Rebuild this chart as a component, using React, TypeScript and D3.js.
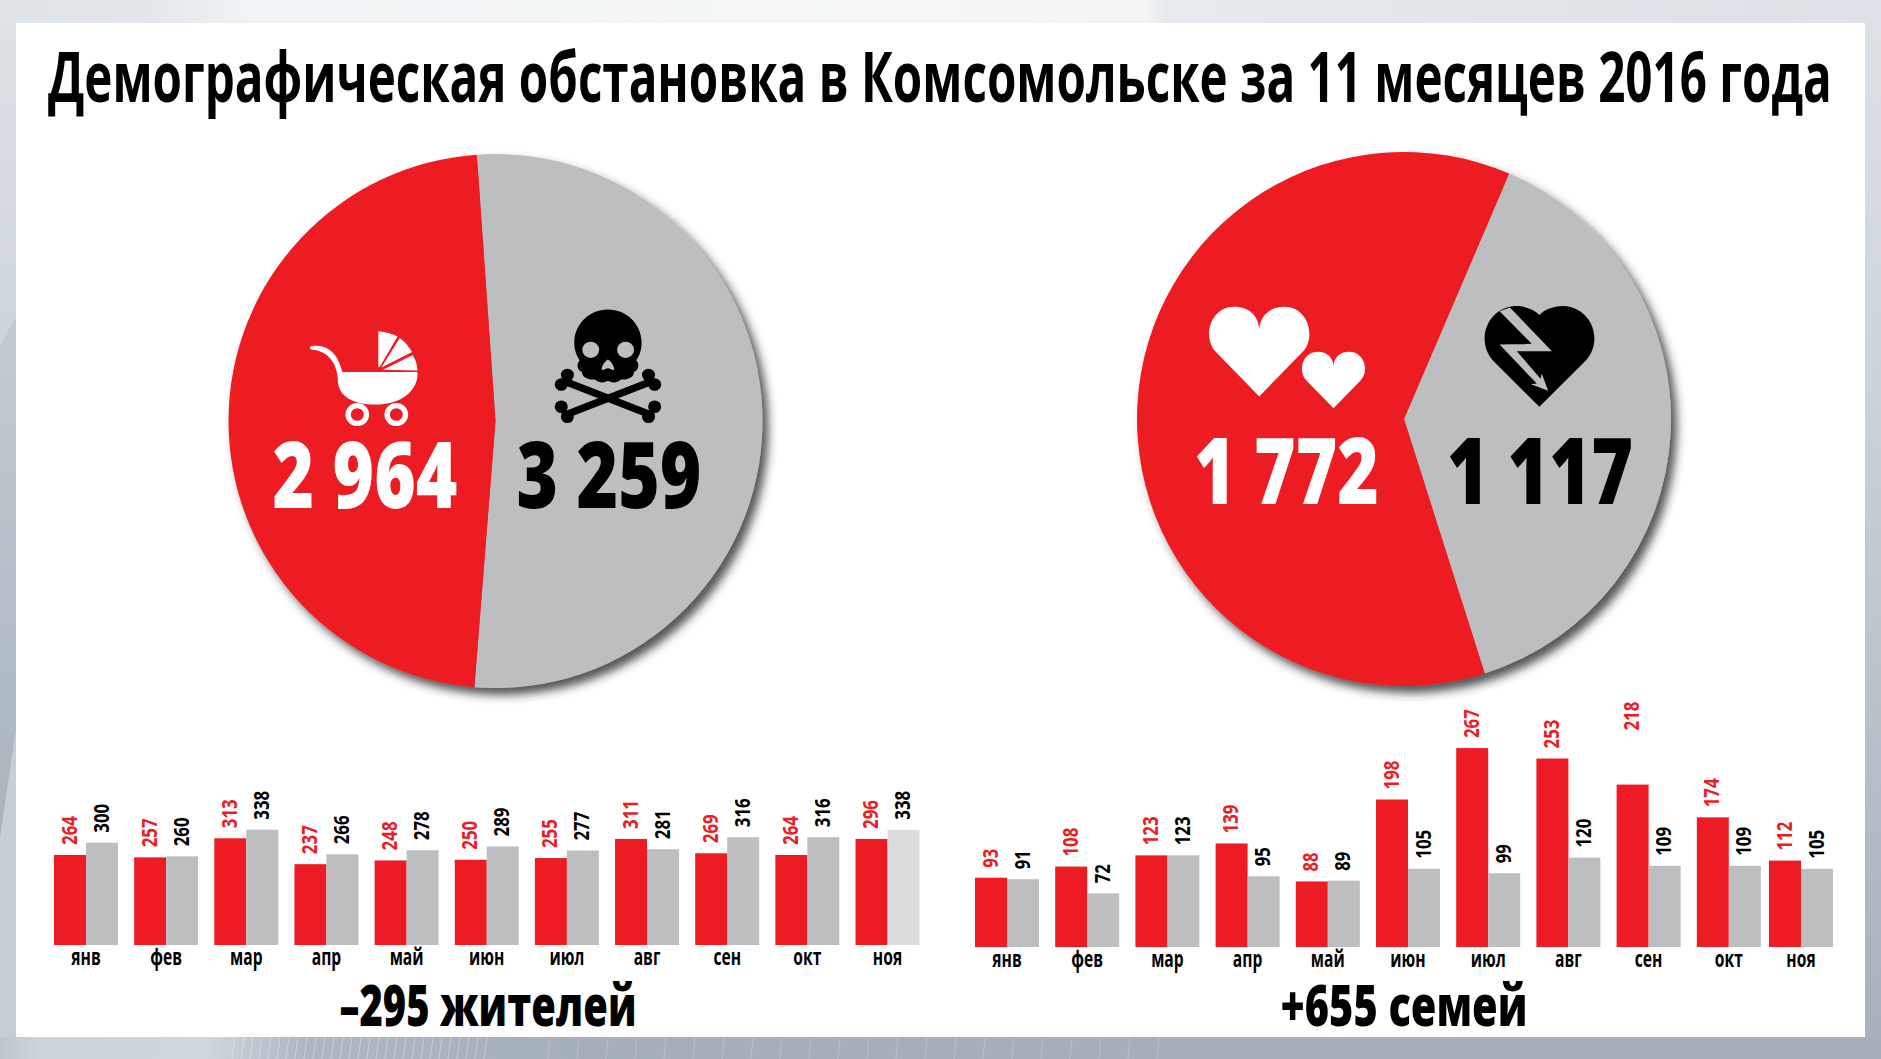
import React, { useLayoutEffect, useRef } from "react";
import * as d3 from "d3";

const months = ["янв", "фев", "мар", "апр", "май", "июн", "июл", "авг", "сен", "окт", "ноя"];
const births = [264, 257, 313, 237, 248, 250, 255, 311, 269, 264, 296];
const deaths = [300, 260, 338, 266, 278, 289, 277, 281, 316, 316, 338];
const marriages = [93, 108, 123, 139, 88, 198, 267, 253, 218, 174, 112];
const divorces = [91, 72, 123, 95, 89, 105, 99, 120, 109, 109, 105];
// The reference draws these two bars taller than their printed values.
const birthsBarOverride: Record<string, number> = { "ноя": 311 };
const marriagesBarOverride: Record<string, number> = { "ноя": 116 };
const totalsLeft = [3259, 2964];
const totalsRight = [1117, 1772];

const RED = "#ed1c24";
const GREY = "#bcbec0";
const FONT = "'Open Sans', sans-serif";

const W = 1881;
const H = 1059;

// Squeezes a real text horizontally to the measured width in the reference.
function Fitted({ x, y, len, size, fill, weight = 800, rotate = 0, children }: any) {
  const ref = useRef<SVGTextElement>(null);
  useLayoutEffect(() => {
    const el = ref.current;
    if (!el) return;
    const natural = el.getComputedTextLength();
    const rot = rotate ? ` rotate(${rotate})` : "";
    el.setAttribute("transform", `translate(${x},${y})${rot} scale(${len / natural},1)`);
  });
  return (
    <text ref={ref} transform={`translate(${x},${y})`} fontFamily={FONT} fontWeight={weight} fontSize={size} fill={fill}>{children}</text>
  );
}

function Pie({ cx, cy, r, values, startDeg }: any) {
  const pie = d3.pie<number>().sort(null).startAngle((startDeg * Math.PI) / 180).endAngle((startDeg * Math.PI) / 180 + 2 * Math.PI);
  const arc = d3.arc<d3.PieArcDatum<number>>().innerRadius(0).outerRadius(r);
  const colors = [GREY, RED];
  return (
    <g transform={`translate(${cx},${cy})`} filter="url(#pieShadow)">
      {pie(values).map((d, i) => <path key={i} d={arc(d) as string} fill={colors[i]} />)}
    </g>
  );
}

function Bars({ a, b, x0, step, width, base, pxPerUnit, override, nudge, lift, labelY }: any) {
  const inner = 1 - width / step;
  const x = d3.scaleBand<string>().domain(months).range([x0, x0 + step * (months.length - inner)]).paddingInner(inner).paddingOuter(0);
  const pair = d3.scaleBand<string>().domain(["a", "b"]).range([0, x.bandwidth()]);
  const y = d3.scaleLinear().domain([0, 1]).range([base, base - pxPerUnit]);
  const bw = pair.bandwidth();
  const label = (v: number, cxx: number, top: number, color: string) => (
    <Fitted x={cxx + 6.5} y={top} rotate={-90} size={22} weight={700} fill={color} len={String(v).length === 3 ? 29 : 19}>{v}</Fitted>
  );
  return (
    <g>
      {months.map((m, i) => {
        const xx = (x(m) as number) + (nudge[m] || 0);
        const ra = override[m] ?? a[i];
        const gx = xx + (pair("b") as number);
        const greyFill = lift.fade === m ? "#dcddde" : GREY;
        return (
          <g key={m}>
            <rect x={xx} y={y(ra)} width={bw} height={base - y(ra)} fill={RED} />
            <rect x={gx} y={y(b[i])} width={bw} height={base - y(b[i])} fill={greyFill} />
            {label(a[i], xx + bw / 2, y(ra) - (lift.gaps[m] || 10), RED)}
            {label(b[i], gx + bw / 2, y(b[i]) - 10, "#000")}
            <text transform={`translate(${gx},${labelY}) scale(0.68,1)`} textAnchor="middle" fontFamily={FONT}
              fontWeight={700} fontSize={23} fill="#000">{m}</text>
          </g>
        );
      })}
    </g>
  );
}

export default function App() {
  return (
    <svg width={W} height={H} viewBox={`0 0 ${W} ${H}`} style={{ position: "absolute", left: 0, top: 0, display: "block" }}>
      <defs>
        <linearGradient id="bgV" x1="0" y1="0" x2="0" y2="1">
          <stop offset="0" stopColor="#dde2e7" />
          <stop offset="0.3" stopColor="#cfd6db" />
          <stop offset="0.7" stopColor="#b7c0c8" />
          <stop offset="1" stopColor="#a6b0bc" />
        </linearGradient>
        <linearGradient id="topH" x1="0" y1="0" x2="1" y2="0">
          <stop offset="0" stopColor="#dfe4e8" />
          <stop offset="0.08" stopColor="#e3e7eb" />
          <stop offset="0.13" stopColor="#f0f3f5" />
          <stop offset="0.45" stopColor="#f5f7f8" />
          <stop offset="0.61" stopColor="#f2f4f6" />
          <stop offset="0.62" stopColor="#e6e9ed" />
          <stop offset="1" stopColor="#dde1e7" />
        </linearGradient>
        <linearGradient id="botH" x1="0" y1="0" x2="1" y2="0">
          <stop offset="0" stopColor="#bcc5ce" />
          <stop offset="0.02" stopColor="#ccd3da" />
          <stop offset="0.11" stopColor="#cfd6dd" />
          <stop offset="0.16" stopColor="#aeb8c3" />
          <stop offset="0.3" stopColor="#a6b0bc" />
          <stop offset="1" stopColor="#a6afbb" />
        </linearGradient>
        <linearGradient id="leftBand" x1="0" y1="0" x2="0" y2="1">
          <stop offset="0" stopColor="#c3cbd2" />
          <stop offset="1" stopColor="#a9b4bd" />
        </linearGradient>
        <filter id="pieShadow" x="-10%" y="-10%" width="125%" height="125%">
          <feDropShadow dx="6" dy="7" stdDeviation="5" floodColor="#2c2c2c" floodOpacity="0.8" />
        </filter>
      </defs>

      <rect width={W} height={H} fill="url(#bgV)" />
      <rect width={W} height={24} fill="url(#topH)" />
      <rect y={1036} width={W} height={23} fill="url(#botH)" />
      <polygon points="0,345 16,317 16,730 0,838" fill="url(#leftBand)" />
      <polygon points="0,838 16,730 16,1037 0,1037" fill="#c6ced6" />
      {d3.range(235, 490, 9).map((lx) => (
        <line key={lx} x1={lx} y1={1037} x2={lx - 3} y2={1059} stroke="#fff" strokeOpacity={0.35} strokeWidth={1} />
      ))}
      {d3.range(550, 1160, 29).map((lx) => (
        <line key={lx} x1={lx} y1={1037} x2={lx - 2} y2={1059} stroke="#fff" strokeOpacity={0.2} strokeWidth={1} />
      ))}
      <rect x={16} y={23} width={1849} height={1014} fill="#fff" />

      <Fitted x={48} y={102} len={1784} size={70} weight={700} fill="#000">Демографическая обстановка в Комсомольске за 11 месяцев 2016 года</Fitted>

      <Pie cx={495.5} cy={421} r={267} values={totalsLeft} startDeg={-4} />
      <Pie cx={1404} cy={419} r={267} values={totalsRight} startDeg={23.2} />

      <g transform="translate(200,130) scale(0.3827,0.37)">
        <g fill="#fff">
          <path d="M292 584 C340 578 362 612 372 654 L568 654 C572 700 530 742 460 742 C400 742 358 720 360 670 C358 640 340 596 292 594 C286 592 286 586 292 584 Z" />
          <path d="M466 544 C484 546 502 550 516 558 L470 640 L466 640 Z" />
          <path d="M522 562 C536 572 546 586 554 600 L474 642 Z" />
          <path d="M556 608 C564 622 568 636 568 650 L478 648 Z" />
        </g>
        <g fill="none" stroke="#fff" strokeWidth="14">
          <circle cx="411" cy="769" r="24" />
          <circle cx="513" cy="769" r="24" />
        </g>
      </g>

      <g transform="translate(200,130) scale(0.3827,0.37)">
        <g fill="#000">
          <path d="M1066 485 C1115 485 1154 525 1154 575 C1154 595 1148 610 1140 622 C1148 632 1148 648 1134 654 C1134 668 1118 676 1100 674 C1090 684 1076 684 1066 678 C1056 684 1042 684 1032 674 C1014 676 998 668 998 654 C984 648 984 632 992 622 C984 610 978 595 978 575 C978 525 1017 485 1066 485 Z" />
          <g stroke="#000" strokeWidth="20" strokeLinecap="round">
            <line x1="955" y1="680" x2="1178" y2="770" />
            <line x1="1178" y1="680" x2="955" y2="770" />
          </g>
          {[[960, 662], [1172, 662], [960, 775], [1172, 775], [944, 688], [1188, 688], [944, 748], [1188, 748]].map(([cx, cy], i) => (
            <ellipse key={i} cx={cx} cy={cy} rx={17} ry={17} />
          ))}
        </g>
        <circle cx="1021" cy="594" r="22" fill={GREY} />
        <circle cx="1112" cy="594" r="22" fill={GREY} />
        <path d="M1066 620 C1074 624 1084 640 1082 648 C1076 650 1072 644 1066 644 C1060 644 1056 650 1050 648 C1048 640 1058 624 1066 620 Z" fill={GREY} />
      </g>

      <g transform="translate(1110,130) scale(0.3827,0.37)">
        <path d="M390 720 L277 600 C240 560 262 478 325 478 C365 478 388 505 390 538 C392 505 415 478 455 478 C518 478 540 560 503 600 Z" fill="#fff" />
        <path d="M390 720 L277 600 C240 560 262 478 325 478 C365 478 388 505 390 538 C392 505 415 478 455 478 C518 478 540 560 503 600 Z"
          fill="#fff" transform="translate(584,752) scale(0.63) translate(-390,-720)" />
        <path d="M1122 748 L1000 622 C955 570 985 480 1060 476 C1090 476 1110 488 1122 500 C1134 488 1155 476 1185 476 C1260 480 1290 570 1244 622 Z" fill="#000" />
        <polygon points="1018,490 1102,578 1018,580 1115,685 1100,687 1145,705 1128,658 1125,672 1063,598 1155,598 1045,480" fill={GREY} />
      </g>

      <Fitted x={272.5} y={507.5} len={185} size={92} fill="#fff">2 964</Fitted>
      <Fitted x={516.5} y={507.5} len={185} size={92} fill="#000">3 259</Fitted>
      <Fitted x={1194} y={504} len={185} size={92} fill="#fff">1 772</Fitted>
      <Fitted x={1447} y={504} len={186} size={92} fill="#000">1 117</Fitted>

      <Bars a={births} b={deaths} x0={54} step={80.15} width={64} base={945} pxPerUnit={0.341}
        override={birthsBarOverride} nudge={{}} lift={{ gaps: {}, fade: "ноя" }} labelY={965} />
      <Bars a={marriages} b={divorces} x0={975} step={80.2} width={64} base={947} pxPerUnit={0.745}
        override={marriagesBarOverride} nudge={{ "ноя": -8 }} lift={{ gaps: { "сен": 54 }, fade: "" }} labelY={967} />

      <Fitted x={339.5} y={1026} len={297} size={56} fill="#000">–295 жителей</Fitted>
      <Fitted x={1280.5} y={1026} len={247} size={56} fill="#000">+655 семей</Fitted>
    </svg>
  );
}
